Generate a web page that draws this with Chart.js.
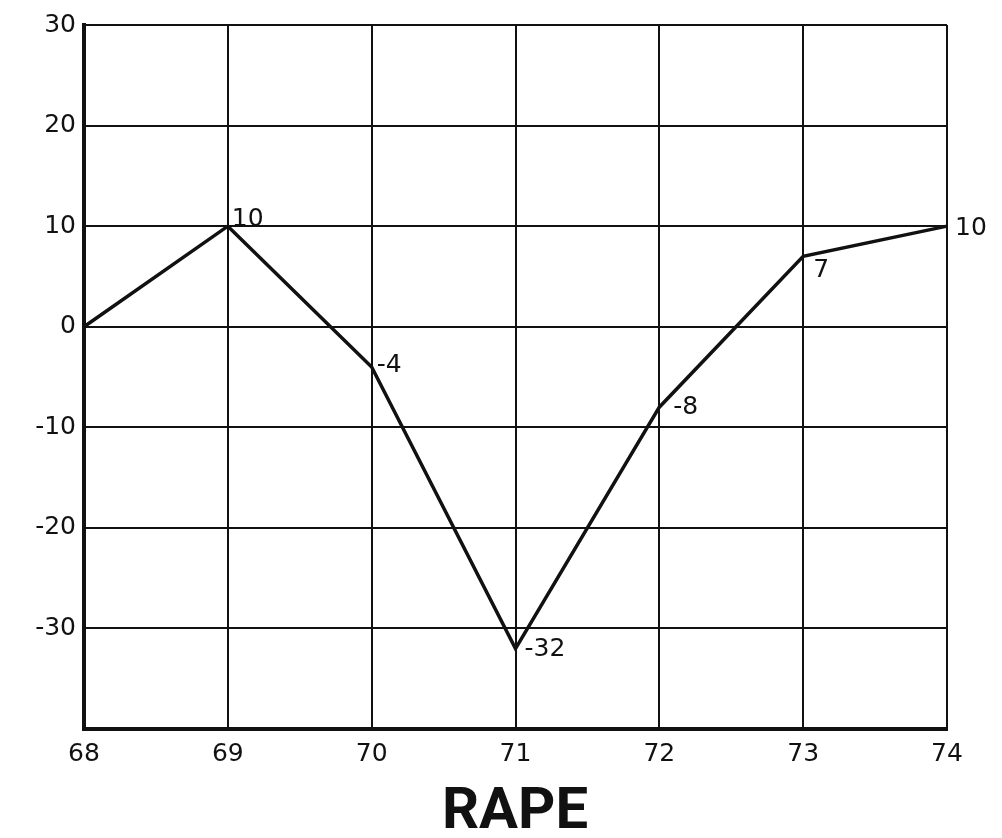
<!DOCTYPE html>
<html>
<head>
<meta charset="utf-8">
<script src="https://cdn.jsdelivr.net/npm/chart.js@4/dist/chart.umd.min.js"></script>
<style>
  html, body { margin: 0; padding: 0; background: #fff; }
  #wrap { width: 1002px; height: 838px; }
</style>
</head>
<body>
<div id="wrap"><canvas id="myChart" width="1002" height="838"></canvas></div>
<script>
// data
var years = ["68", "69", "70", "71", "72", "73", "74"];
var change = [0, 10, -4, -32, -8, 7, 10];
var pointLabels = ["", "10", "-4", "-32", "-8", "7", "10"];
var yTicks = [30, 20, 10, 0, -10, -20, -30];
var chartTitle = "RAPE";

// where each value label sits relative to its point (style only)
var labelOffsets = [[0, 0], [4, -7], [5, -1], [9, 1], [14, 0], [10, 14], [8, 2]];

var ink = '#111';
var numFont = { family: 'DejaVu Sans', size: 25 };

// small plugin to write the value next to each point
var valueLabels = {
  id: 'valueLabels',
  afterDatasetsDraw: function(chart) {
    var ctx = chart.ctx;
    var meta = chart.getDatasetMeta(0);
    ctx.save();
    ctx.fillStyle = ink;
    ctx.font = numFont.size + 'px ' + numFont.family;
    ctx.textAlign = 'left';
    ctx.textBaseline = 'middle';
    meta.data.forEach(function(pt, i) {
      if (!pointLabels[i]) return;
      ctx.fillText(pointLabels[i], pt.x + labelOffsets[i][0], pt.y + labelOffsets[i][1]);
    });
    ctx.restore();
  }
};

var ctx = document.getElementById('myChart').getContext('2d');

var chart = new Chart(ctx, {
  type: 'line',
  data: {
    labels: years,
    datasets: [{
      data: change,
      borderColor: ink,
      borderWidth: 3.5,
      pointRadius: 0,
      tension: 0,
      clip: false
    }]
  },
  options: {
    responsive: false,
    animation: false,
    layout: { padding: { left: 28, top: 25, right: 0, bottom: 0 } },
    plugins: {
      legend: { display: false },
      tooltip: { enabled: false },
      title: {
        display: true,
        text: chartTitle,
        position: 'bottom',
        color: ink,
        font: { family: 'Roboto', size: 58, weight: 'bold', lineHeight: 0.85 },
        padding: { top: 0, bottom: 0 }
      }
    },
    scales: {
      x: {
        offset: false,
        grid: { color: ink, lineWidth: 2, drawTicks: false },
        border: { color: ink, width: 4 },
        ticks: { color: ink, font: numFont, padding: 10, maxRotation: 0 },
        afterFit: function(scale) { scale.height = 59.7; }
      },
      y: {
        min: -40,
        max: 30,
        grid: { color: ink, lineWidth: 2, drawTicks: false },
        border: { color: ink, width: 4 },
        afterBuildTicks: function(scale) {
          scale.ticks = [-40].concat(yTicks.slice().reverse()).map(function(v) { return { value: v }; });
        },
        ticks: {
          color: ink,
          font: numFont,
          padding: 8,
          callback: function(v) { return yTicks.indexOf(v) >= 0 ? String(v) : ''; }
        },
        afterFit: function(scale) { scale.width = 56; }
      },
      // empty strip on the right so the plot ends where the original does
      yRight: {
        position: 'right',
        min: -40,
        max: 30,
        grid: { display: false },
        border: { display: false },
        ticks: { display: false },
        afterFit: function(scale) { scale.width = 55; }
      }
    }
  },
  plugins: [valueLabels]
});
</script>
</body>
</html>
